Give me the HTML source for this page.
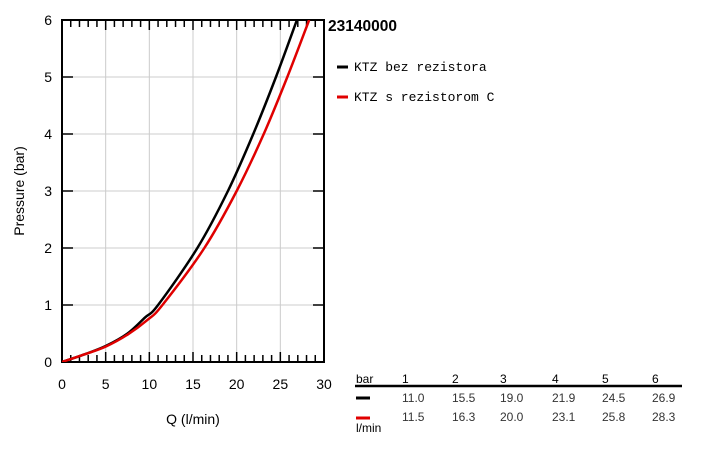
<!DOCTYPE html>
<html><head><meta charset="utf-8"><style>
body{margin:0;background:#fff;width:728px;height:456px;overflow:hidden;font-family:"Liberation Sans",Arial,sans-serif}
</style></head><body>
<svg id="chart" width="728" height="456" xmlns="http://www.w3.org/2000/svg" font-family="Liberation Sans, Arial, sans-serif">
<g id="grid"></g>
<g id="axes"></g>
<g id="series"></g>
<text x="328" y="31" font-size="15.5" font-weight="bold" fill="#000">23140000</text>
<line x1="337" y1="67" x2="348" y2="67" stroke="#000" stroke-width="3"/>
<text x="354" y="71" font-size="13" font-family="Liberation Mono, monospace">KTZ bez rezistora</text>
<line x1="337" y1="97" x2="348" y2="97" stroke="#e00000" stroke-width="3"/>
<text x="354" y="101" font-size="13" font-family="Liberation Mono, monospace">KTZ s rezistorom C</text>
<text transform="translate(24,191) rotate(-90)" text-anchor="middle" font-size="14">Pressure (bar)</text>
<text x="193" y="424" text-anchor="middle" font-size="14">Q (l/min)</text>
<g id="table"></g>
</svg>
<script>
const categories=[1,2,3,4,5,6];
const blackFlow=[11.0,15.5,19.0,21.9,24.5,26.9];
const redFlow=[11.5,16.3,20.0,23.1,25.8,28.3];
const blackLow=[[0,0],[2.5,0.13],[5,0.28],[7.5,0.5],[9.5,0.78]];
const redLow=[[0,0],[2.5,0.13],[5,0.27],[7.5,0.48],[9.8,0.74]];
const xTicks=[0,5,10,15,20,25,30];
const yTicks=[0,1,2,3,4,5,6];
const L=62,R=324,T=20,B=362;
const x=v=>L+(R-L)*v/30, y=v=>B-(B-T)*v/6;
const NS="http://www.w3.org/2000/svg";
function mk(tag,attrs,parent){const e=document.createElementNS(NS,tag);for(const k in attrs)e.setAttribute(k,attrs[k]);parent.appendChild(e);return e;}
const grid=document.getElementById('grid'),axes=document.getElementById('axes'),series=document.getElementById('series'),table=document.getElementById('table');
xTicks.forEach(v=>{
  const g=mk('line',{x1:x(v),x2:x(v),y1:T,y2:B,stroke:'#ccc','stroke-width':1},grid);
  
  
  const t=mk('text',{x:x(v),y:B+27,'text-anchor':'middle','font-size':14},axes);
  
  
  t.textContent=v;
});
for(let v=0;v<=30;v++){
  const len=v%5===0?10:7;
  mk('line',{x1:x(v),x2:x(v),y1:B,y2:B-len,stroke:'#000','stroke-width':1.5},axes);
  mk('line',{x1:x(v),x2:x(v),y1:T,y2:T+len,stroke:'#000','stroke-width':1.5},axes);
}
yTicks.forEach(v=>{
  const g=mk('line',{x1:L,x2:R,y1:y(v),y2:y(v),stroke:'#ccc','stroke-width':1},grid);
  
  
  mk('line',{x1:L,x2:L+11,y1:y(v),y2:y(v),stroke:'#000','stroke-width':1.5},axes);
  mk('line',{x1:R,x2:R-11,y1:y(v),y2:y(v),stroke:'#000','stroke-width':1.5},axes);
  const t=mk('text',{x:L-10,y:y(v)+5,'text-anchor':'end','font-size':14},axes);
  
  
  t.textContent=v;
});
mk('rect',{x:L,y:T,width:R-L,height:B-T,fill:'none',stroke:'#000','stroke-width':2},axes);
function path(pts){
  const p=pts.map(a=>[x(a[0]),y(a[1])]);
  let d='M'+p[0][0]+','+p[0][1];
  for(let i=0;i<p.length-1;i++){
    const p0=p[i-1]||p[i],p1=p[i],p2=p[i+1],p3=p[i+2]||p2;
    d+=' C'+(p1[0]+(p2[0]-p0[0])/6)+','+(p1[1]+(p2[1]-p0[1])/6)+' '+(p2[0]-(p3[0]-p1[0])/6)+','+(p2[1]-(p3[1]-p1[1])/6)+' '+p2[0]+','+p2[1];
  }
  return d;
}
const clip=mk('clipPath',{id:'plotclip'},series);
mk('rect',{x:L,y:T,width:R-L,height:B-T},clip);
const bl=mk('path',{d:path(blackLow.concat(blackFlow.map((q,i)=>[q,categories[i]]))),fill:'none',stroke:'#000','stroke-width':2.5,'clip-path':'url(#plotclip)'},series);


const rl=mk('path',{d:path(redLow.concat(redFlow.map((q,i)=>[q,categories[i]]))),fill:'none',stroke:'#e00000','stroke-width':2.5,'clip-path':'url(#plotclip)'},series);


const cols=[402,452,500,552,602,652];
const hb=mk('text',{x:356,y:383,'font-size':12,fill:'#000'},table);hb.textContent='bar';
mk('line',{x1:355,x2:682,y1:386,y2:386,stroke:'#000','stroke-width':2.5},table);
mk('line',{x1:356,x2:370,y1:398,y2:398,stroke:'#000','stroke-width':3},table);
mk('line',{x1:356,x2:370,y1:418,y2:418,stroke:'#e00000','stroke-width':3},table);
const lm=mk('text',{x:356,y:432,'font-size':12,fill:'#000'},table);lm.textContent='l/min';
categories.forEach((c,i)=>{
  const h=mk('text',{x:cols[i],y:383,'font-size':12},table);
  
  
  h.textContent=c;
  const a=mk('text',{x:cols[i],y:402,'font-size':12,fill:'#333'},table);
  
  
  a.textContent=blackFlow[i].toFixed(1);
  const b=mk('text',{x:cols[i],y:421,'font-size':12,fill:'#333'},table);
  
  
  b.textContent=redFlow[i].toFixed(1);
});
</script>
</body></html>
